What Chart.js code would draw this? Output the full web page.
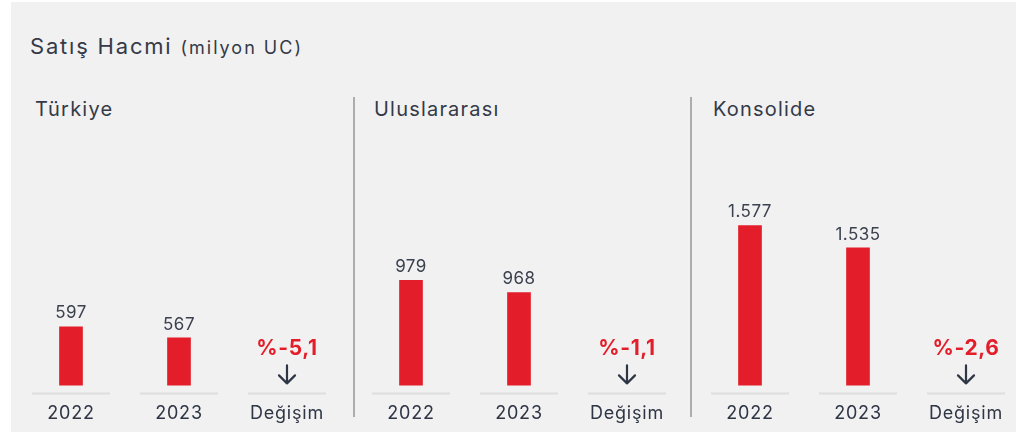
<!DOCTYPE html>
<html lang="tr">
<head>
<meta charset="utf-8">
<script src="https://cdn.jsdelivr.net/npm/chart.js@4/dist/chart.umd.min.js"></script>
<style>
  html, body { margin: 0; padding: 0; background: #ffffff; overflow: hidden; }
  body { width: 1016px; height: 436px; position: relative; font-family: Inter, 'Open Sans', sans-serif; }
  #panelBg { position: absolute; left: 11px; top: 2px; width: 1005px; height: 430px; background: #f1f1f1; }
  .title { position: absolute; left: 30px; top: 33px; color: #343a48; font-size: 22px; letter-spacing: 1.8px; white-space: nowrap; }
  .title small { font-size: 18px; letter-spacing: 2px; }
  .heading { position: absolute; top: 97px; color: #343a48; font-size: 20px; letter-spacing: 1.2px; white-space: nowrap; }
  .divider { position: absolute; top: 97px; width: 2px; height: 320px; background: #adadad; }
  .box { position: absolute; top: 0; width: 324px; height: 450px; }
</style>
</head>
<body>
<div id="panelBg"></div>
<div class="title">Satış Hacmi <small>(milyon UC)</small></div>
<div class="heading" style="left:35px">Türkiye</div>
<div class="heading" style="left:374px">Uluslararası</div>
<div class="heading" style="left:713px">Konsolide</div>
<div class="divider" style="left:353px"></div>
<div class="divider" style="left:690px"></div>
<div class="box" style="left:17px"><canvas id="c0" width="324" height="450"></canvas></div>
<div class="box" style="left:357px"><canvas id="c1" width="324" height="450"></canvas></div>
<div class="box" style="left:696px"><canvas id="c2" width="324" height="450"></canvas></div>
<script>
// veriler
const categories = ['2022', '2023', 'Değişim'];
const regions = ['Türkiye', 'Uluslararası', 'Konsolide'];
const volume2022 = [597, 979, 1577];
const volume2023 = [567, 968, 1535];
const changePct = [-5.1, -1.1, -2.6];

// her panelin kendi ölçeği var (orijinal grafikte sıfırdan başlamıyor)
const axisMin = [439, 884, 1275];
const axisMax = [1101, 1106, 1739];

const barRed = '#e31e2a';
const textDark = '#2e3545';

function fmtNumber(v) {
    return v.toLocaleString('de-DE');
}
function fmtPct(v) {
    return '%' + v.toFixed(1).replace('.', ',');
}

// kategori altındaki gri çizgiler, değer etiketleri, değişim yüzdesi ve ok
const decorations = {
    id: 'decorations',
    beforeDraw(chart) {
        // eksen etiketleri biraz daha geniş görünsün
        chart.ctx.letterSpacing = '0.8px';
    },
    afterDatasetsDraw(chart) {
        const ctx = chart.ctx;
        const xScale = chart.scales.x;
        const area = chart.chartArea;
        const idx = chart.options.plugins.decorations.index;
        ctx.save();

        // gri taban çizgileri
        ctx.strokeStyle = '#dedede';
        ctx.lineWidth = 2;
        categories.forEach(function(c, i) {
            const x = xScale.getPixelForValue(i);
            ctx.beginPath();
            ctx.moveTo(x - 39, area.bottom + 8);
            ctx.lineTo(x + 39, area.bottom + 8);
            ctx.stroke();
        });

        // değer etiketleri
        const meta = chart.getDatasetMeta(0);
        ctx.fillStyle = '#3c4150';
        ctx.font = '17px Inter, sans-serif';
        ctx.letterSpacing = '0.5px';
        ctx.textAlign = 'center';
        ctx.textBaseline = 'bottom';
        meta.data.forEach(function(bar, i) {
            const v = chart.data.datasets[0].data[i];
            if (v == null) return;
            ctx.fillText(fmtNumber(v), bar.x, bar.y - 5);
        });

        // değişim
        const xc = xScale.getPixelForValue(2);
        const yb = area.bottom;
        ctx.fillStyle = barRed;
        ctx.font = 'bold 21px Inter, sans-serif';
        ctx.letterSpacing = '0.6px';
        ctx.textBaseline = 'alphabetic';
        ctx.fillText(fmtPct(changePct[idx]), xc, yb - 30);

        ctx.strokeStyle = textDark;
        ctx.lineWidth = 2.2;
        ctx.lineCap = 'round';
        ctx.lineJoin = 'round';
        ctx.beginPath();
        ctx.moveTo(xc, yb - 20);
        ctx.lineTo(xc, yb - 2);
        ctx.moveTo(xc - 8, yb - 10);
        ctx.lineTo(xc, yb - 2);
        ctx.lineTo(xc + 8, yb - 10);
        ctx.stroke();
        ctx.restore();
    }
};

regions.forEach(function(name, i) {
    const context = document.getElementById('c' + i).getContext('2d');
    new Chart(context, {
        type: 'bar',
        data: {
            labels: categories,
            datasets: [{
                label: name,
                data: [volume2022[i], volume2023[i], null],
                backgroundColor: barRed,
                barThickness: 23
            }]
        },
        options: {
            responsive: false,
            animation: false,
            layout: { padding: { top: 140, bottom: 9, left: 0, right: 0 } },
            plugins: {
                legend: { display: false },
                tooltip: { enabled: false },
                decorations: { index: i }
            },
            scales: {
                x: {
                    grid: { display: false, drawTicks: false },
                    border: { display: false },
                    ticks: {
                        padding: 17,
                        color: textDark,
                        font: { family: 'Inter, sans-serif', size: 18 }
                    }
                },
                y: {
                    display: false,
                    min: axisMin[i],
                    max: axisMax[i]
                }
            }
        },
        plugins: [decorations]
    });
});
</script>
</body>
</html>
